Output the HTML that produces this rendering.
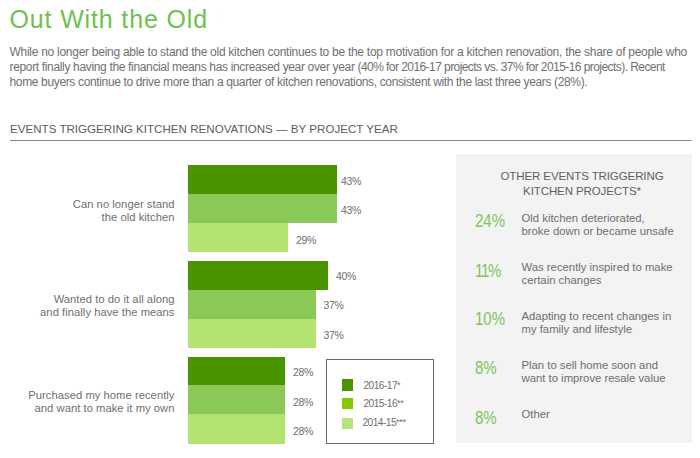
<!DOCTYPE html>
<html>
<head>
<meta charset="utf-8">
<title>Out With the Old</title>
<style>
html,body{margin:0;padding:0;}
body{width:700px;height:458px;background:#fff;position:relative;overflow:hidden;font-family:"Liberation Sans",sans-serif;color:#555;}
.abs{position:absolute;white-space:nowrap;}
.title{left:9.5px;top:4px;font-size:25px;line-height:30px;color:#70c04e;letter-spacing:0.85px;}
.p{left:9.5px;font-size:12px;line-height:15px;color:#707070;}
.h2{left:10px;top:122px;font-size:11.6px;line-height:14px;color:#5c5c5c;}
.rule{left:9.5px;top:139.7px;width:682px;height:1.3px;background:#8a8a8a;}
.bar{position:absolute;left:188px;}
.d{background:#4a9400;}
.m{background:#8ac858;}
.l{background:#b2e370;}
.lab{text-align:right;right:525.5px;font-size:11.2px;line-height:13px;color:#6e6e6e;letter-spacing:0.05px;}
.v{font-size:10.5px;line-height:12px;color:#6e6e6e;letter-spacing:-0.3px;}
.legend{position:absolute;left:326px;top:359px;width:108px;height:84.5px;border:1px solid #6a6a6a;box-sizing:border-box;background:#fff;}
.sw{position:absolute;left:342px;width:11px;height:11.5px;}
.lt{left:363.5px;font-size:10.2px;line-height:12px;color:#6e6e6e;letter-spacing:-0.55px;}
.lt i{font-style:normal;font-size:9px;letter-spacing:-0.3px;position:relative;top:-0.5px;}
.panel{position:absolute;left:456px;top:154px;width:236px;height:288.5px;background:#f3f3f3;}
.ph{font-size:11.5px;line-height:14.5px;color:#606060;letter-spacing:-0.1px;text-align:center;left:456px;width:252px;}
.n{left:475px;font-size:18px;line-height:20px;color:#7cc65e;transform:scaleX(0.833);transform-origin:0 0;}
.t{left:521.5px;font-size:11.32px;line-height:13px;color:#6e6e6e;}
</style>
</head>
<body>
<div class="abs title">Out With the Old</div>
<div class="abs p" style="top:44.5px;letter-spacing:-0.272px">While no longer being able to stand the old kitchen continues to be the top motivation for a kitchen renovation, the share of people who</div>
<div class="abs p" style="top:59.5px;letter-spacing:-0.34px">report finally having the financial means has increased year over year <span style="letter-spacing:-0.565px">(40% for 2016-17 projects vs. 37% for 2015-16 projects). Recent</span></div>
<div class="abs p" style="top:74.5px;letter-spacing:-0.352px">home buyers continue to drive more than a quarter of kitchen renovations, consistent with the last three years (28%).</div>

<div class="abs h2">EVENTS TRIGGERING KITCHEN RENOVATIONS — BY PROJECT YEAR</div>
<div class="abs rule"></div>

<!-- group 1 -->
<div class="bar d" style="top:165px;width:149px;height:29px"></div>
<div class="bar m" style="top:194px;width:149px;height:29px"></div>
<div class="bar l" style="top:223px;width:100px;height:28.5px"></div>
<div class="abs v" style="left:341px;top:174.7px">43%</div>
<div class="abs v" style="left:341px;top:203.7px">43%</div>
<div class="abs v" style="left:296px;top:233.7px">29%</div>
<div class="abs lab" style="top:197.5px">Can no longer stand<br>the old kitchen</div>

<!-- group 2 -->
<div class="bar d" style="top:261px;width:140px;height:29px"></div>
<div class="bar m" style="top:290px;width:128.4px;height:29px"></div>
<div class="bar l" style="top:319px;width:128.4px;height:28.5px"></div>
<div class="abs v" style="left:336px;top:269.7px">40%</div>
<div class="abs v" style="left:323.5px;top:298.7px">37%</div>
<div class="abs v" style="left:323.5px;top:328.7px">37%</div>
<div class="abs lab" style="top:292.5px">Wanted to do it all along<br>and finally have the means</div>

<!-- group 3 -->
<div class="bar d" style="top:356.5px;width:97px;height:28.5px"></div>
<div class="bar m" style="top:385px;width:97px;height:29px"></div>
<div class="bar l" style="top:414px;width:97px;height:29.5px"></div>
<div class="abs v" style="left:293px;top:365.7px">28%</div>
<div class="abs v" style="left:293px;top:395.7px">28%</div>
<div class="abs v" style="left:293px;top:424.7px">28%</div>
<div class="abs lab" style="top:388.5px">Purchased my home recently<br>and want to make it my own</div>

<!-- legend -->
<div class="legend"></div>
<div class="sw" style="top:379px;background:#4a9400"></div>
<div class="sw" style="top:397.5px;background:#88c800"></div>
<div class="sw" style="top:417.5px;background:#b2e57c"></div>
<div class="abs lt" style="top:379.5px">2016-17<i>*</i></div>
<div class="abs lt" style="top:397.5px">2015-16<i>**</i></div>
<div class="abs lt" style="top:416.5px;left:362.5px">2014-15<i>***</i></div>

<!-- right panel -->
<div class="panel"></div>
<div class="abs ph" style="top:169px">OTHER EVENTS TRIGGERING<br>KITCHEN PROJECTS*</div>

<div class="abs n" style="top:211px">24%</div>
<div class="abs t" style="top:211.5px">Old kitchen deteriorated,<br>broke down or became unsafe</div>

<div class="abs n" style="top:260.5px"><span style="letter-spacing:-1.5px">11</span>%</div>
<div class="abs t" style="top:261.2px">Was recently inspired to make<br>certain changes</div>

<div class="abs n" style="top:309px">10%</div>
<div class="abs t" style="top:309.7px">Adapting to recent changes in<br>my family and lifestyle</div>

<div class="abs n" style="top:358px">8%</div>
<div class="abs t" style="top:358.9px">Plan to sell home soon and<br>want to improve resale value</div>

<div class="abs n" style="top:408px">8%</div>
<div class="abs t" style="top:408.4px">Other</div>
</body>
</html>
